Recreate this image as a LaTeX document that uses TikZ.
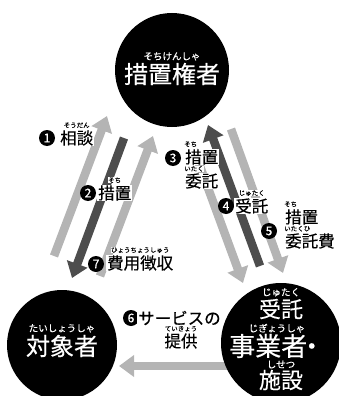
\documentclass[tikz,border=0pt]{standalone}
\usepackage{fontspec}
\setmainfont{Noto Sans CJK JP}[FakeBold=0.4]
\usetikzlibrary{arrows.meta, positioning}
\definecolor{lightflow}{HTML}{B4B4B4}
\definecolor{darkflow}{HTML}{4D4D4D}

\tikzset{
  party/.style = {circle, fill=black, inner sep=0pt, minimum size=#1},
  pname/.style = {text=white, inner sep=0pt, font=\fontsize{#1}{#1}\selectfont},
  pruby/.style = {text=white, inner sep=0pt, font=\fontsize{9.5}{10}\selectfont},
  num/.style = {circle, fill=black, text=white, inner sep=0pt, minimum size=16pt, font=\fontsize{12}{12}\selectfont},
  lbl/.style = {fill=white, inner xsep=1pt, inner ysep=0pt, anchor=west, font=\fontsize{16.5}{17}\selectfont},
  rb/.style = {fill=white, inner sep=0pt, font=\fontsize{6.5}{7}\selectfont},
  flow/.style = {line width=8.5pt, -{Triangle[width=21pt,length=15pt]}},
  lightflow/.style = {flow, draw=lightflow},
  darkflow/.style = {flow, draw=darkflow}
}

\begin{document}
\begin{tikzpicture}[x=1pt, y=-1pt]
\useasboundingbox (0,0) rectangle (338,396);

% ends of the arrows
\coordinate (a1s) at (54,256);  \coordinate (a1e) at (107,116);
\coordinate (a2s) at (124,138); \coordinate (a2e) at (72,278);
\coordinate (a7s) at (100,276); \coordinate (a7e) at (153,136);
\coordinate (a3s) at (194,150); \coordinate (a3e) at (243,283);
\coordinate (a4s) at (260,266); \coordinate (a4e) at (208,125);
\coordinate (a5s) at (231,129); \coordinate (a5e) at (283,273);
\coordinate (a6s) at (240,366); \coordinate (a6e) at (119,366);

\draw[lightflow] (a1s) -- (a1e);
\draw[darkflow] (a2s) -- (a2e);
\draw[lightflow] (a7s) -- (a7e);
\draw[lightflow] (a3s) -- (a3e);
\draw[darkflow] (a4s) -- (a4e);
\draw[lightflow] (a5s) -- (a5e);
\draw[lightflow] (a6s) -- (a6e);

% the three parties
\node[party=114pt] (auth) at (172,70) {};
\node[party=110pt] (client) at (62,345) {};
\node[party=120pt] (prov) at (281,343) {};

\node[pname=24] (auth-t) at (172,74) {措置権者};
\node[pruby, above=2pt of auth-t] (auth-r) {そちけんしゃ};

\node[pname=24] (client-t) at (62,346) {対象者};
\node[pruby, above=2pt of client-t] (client-r) {たいしょうしゃ};

\node[pname=22] (prov-t1) at (281,309) {受託};
\node[pruby, above=2pt of prov-t1] (prov-r1) {じゅたく};
\node[pname=26] (prov-t2) at (277,346) {事業者\kern-8.5pt・};
\node[pruby, above=1pt of prov-t2] (prov-r2) {じぎょうしゃ};
\node[pname=22] (prov-t3) at (281,380) {施設};
\node[pruby, above=1pt of prov-t3] (prov-r3) {しせつ};

% numbered labels
\node[num] (n1) at (47,138) {1};
\node[lbl] (l1) at (59,138) {相談};
\node[rb, above=2pt of l1] (r1) {そうだん};

\node[num] (n2) at (88,193) {2};
\node[lbl] (l2) at (97,193) {措置};
\node[rb, above=2pt of l2] (r2) {そち};

\node[num] (n3) at (173,158) {3};
\node[lbl] (l3a) at (184,157) {措置};
\node[rb, anchor=south west] (r3a) at ([yshift=2pt]l3a.north west) {そち};
\node[lbl] (l3b) at (184,181) {委託};
\node[rb, anchor=south west] (r3b) at ([yshift=1.5pt]l3b.north west) {いたく};

\node[num] (n4) at (226,206) {4};
\node[lbl] (l4) at (234,206) {受託};
\node[rb, above=2pt of l4] (r4) {じゅたく};

\node[num] (n5) at (269,231) {5};
\node[lbl] (l5a) at (284,217) {措置};
\node[rb, anchor=south west] (r5a) at ([yshift=2pt]l5a.north west) {そち};
\node[lbl] (l5b) at (284,241) {委託費};
\node[rb, anchor=south west] (r5b) at ([yshift=1.5pt]l5b.north west) {いたくひ};

\node[num] (n6) at (131,318) {6};
\node[lbl] (l6a) at (137,318) {サービスの};
\node[lbl, anchor=center] (l6b) at (181,341) {提供};
\node[rb, above=1.5pt of l6b] (r6) {ていきょう};

\node[num] (n7) at (96,264) {7};
\node[lbl] (l7) at (106,263) {費用徴収};
\node[rb, above=2pt of l7] (r7) {ひょうちょうしゅう};
\end{tikzpicture}
\end{document}
